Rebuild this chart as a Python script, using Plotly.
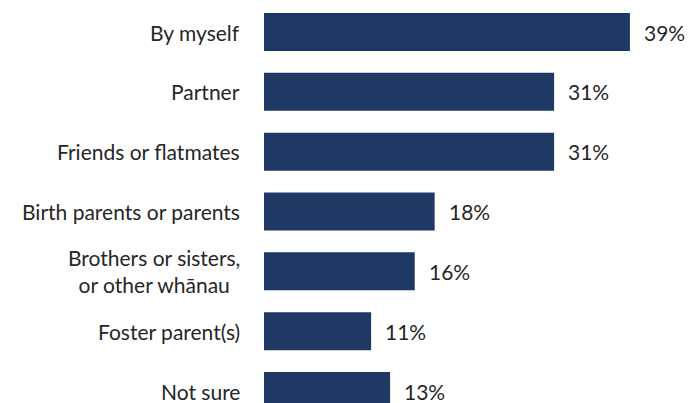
import plotly.graph_objects as go

categories = ["By myself", "Partner", "Friends or flatmates", "Birth parents or parents",
              "Brothers or sisters,<br>or other whānau", "Foster parent(s)", "Not sure"]
values = [38.6, 30.6, 30.6, 18.0, 15.9, 11.3, 13.3]
value_labels = ["39%", "31%", "31%", "18%", "16%", "11%", "13%"]

BAR = "#1F3864"
TXT = "#262626"
FONT = "Lato"

fig = go.Figure(go.Bar(
    x=values, y=list(range(len(categories))), orientation="h",
    marker=dict(color=BAR, line=dict(width=0)), width=0.635,
    hoverinfo="skip",
))

for i, (c, v, t) in enumerate(zip(categories, values, value_labels)):
    fig.add_annotation(x=0, xref="paper", y=i, yref="y", text=c, showarrow=False,
                       xanchor="right", align="center", xshift=-22,
                       font=dict(family=FONT, size=21, color=TXT))
    fig.add_annotation(x=v, xref="x", y=i, yref="y", text=t, showarrow=False,
                       xanchor="left", xshift=12,
                       font=dict(family=FONT, size=21, color=TXT))

fig.update_layout(
    width=695, height=403,
    margin=dict(l=264, r=0, t=0, b=0),
    paper_bgcolor="white", plot_bgcolor="white",
    showlegend=False,
    xaxis=dict(range=[0, 431 / 9.48], visible=False, fixedrange=True),
    yaxis=dict(range=[6.2, -0.535], visible=False, fixedrange=True),
)

fig.write_html("out.html")
